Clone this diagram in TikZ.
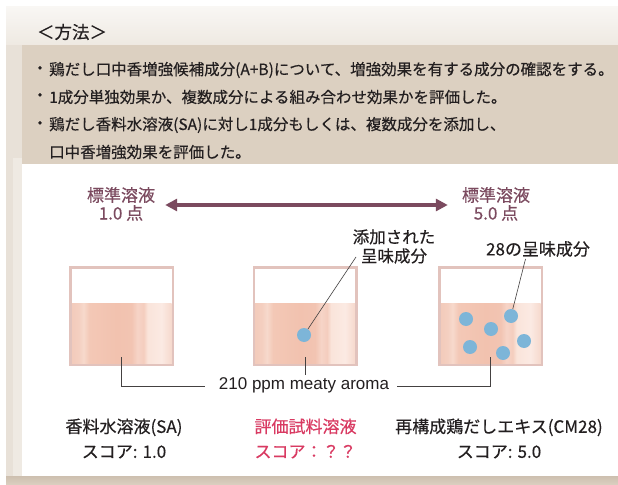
\documentclass[tikz,border=0pt]{standalone}
\usepackage{fontspec}
\setmainfont{Noto Sans CJK JP}[FakeBold=0.4]
\newfontfamily\latinsans{Liberation Sans}
\usetikzlibrary{arrows.meta}

\definecolor{inkdark}{HTML}{231F20}
\definecolor{maroon}{HTML}{7B4A5F}
\definecolor{evalred}{HTML}{D93A62}
\definecolor{boxbeige}{HTML}{DCD0C1}
\definecolor{stripbeige}{HTML}{E8E1D8}
\definecolor{striplight}{HTML}{EFEAE3}
\definecolor{shadowbeige}{HTML}{CDBFAF}
\definecolor{dotblue}{HTML}{7DB5D8}
\definecolor{glassedge}{HTML}{E2C3BD}
\definecolor{lqa}{HTML}{F3CBBB}
\definecolor{lqb}{HTML}{F4CFC0}
\definecolor{lqc}{HTML}{F7D9CC}
\definecolor{lqd}{HTML}{F3C8B6}
\definecolor{lqe}{HTML}{F2C2AF}
\definecolor{lqf}{HTML}{F2C4B2}
\definecolor{lqg}{HTML}{F6D4C7}
\definecolor{lqh}{HTML}{F4CDBE}
\definecolor{lqi}{HTML}{FAE4DA}
\definecolor{lqj}{HTML}{FBEAE3}
\definecolor{lqk}{HTML}{F6D9CD}

% pale salmon liquid with soft vertical light bands
\pgfdeclarehorizontalshading{liquid}{100bp}{%
  color(0bp)=(lqa); color(25bp)=(lqa); color(28.5bp)=(lqb); color(31bp)=(lqc);
  color(34bp)=(lqd); color(47.5bp)=(lqe); color(55bp)=(lqf); color(58bp)=(lqg);
  color(61bp)=(lqh); color(63bp)=(lqi); color(70bp)=(lqj); color(75bp)=(lqk);
  color(100bp)=(lqk)}

\begin{document}
\begin{tikzpicture}[x=1bp,y=-1bp,
  bodytext/.style={inner sep=0pt,text=inkdark,font=\fontsize{15.5bp}{18bp}\selectfont},
  titletext/.style={inner sep=0pt,text=inkdark,font=\fontsize{17.5bp}{20bp}\selectfont},
  stdlabel/.style={inner sep=0pt,text=maroon,align=center,font=\fontsize{17bp}{18bp}\selectfont},
  notelabel/.style={inner sep=0pt,text=inkdark,align=center,font=\fontsize{16.5bp}{19bp}\selectfont},
  samplelabel/.style={inner sep=0pt,text=inkdark,align=center,font=\fontsize{17bp}{25bp}\selectfont},
  beaker/.style={draw=glassedge,line width=2.5bp,minimum width=102.5bp,minimum height=97.5bp,inner sep=0pt},
  flavordot/.style={circle,fill=dotblue,minimum size=14bp,inner sep=0pt},
  leader/.style={draw=inkdark!85,line width=0.6bp},
  scalearrow/.style={draw=maroon,line width=3.6bp,{Triangle[length=12bp,width=12bp]}-{Triangle[length=12bp,width=12bp]}}
]
\useasboundingbox (0,0) rectangle (618,485);
\fill[white] (0,0) rectangle (618,485);

% framed panel background
\fill[stripbeige] (6,7) rectangle (618,485);
\shade[top color=white!60!striplight,bottom color=striplight!90!stripbeige] (6,7) rectangle (618,45);
\fill[striplight] (13,158) rectangle (22,476);
\fill[boxbeige] (22,45) rectangle (618,164);
\shade[top color=shadowbeige,bottom color=boxbeige] (6,476) rectangle (618,485);
\fill[white] (22,164) rectangle (618,476);

% heading and method notes
\node[titletext] (title) at (72,32) {＜方法＞};
\node[bodytext] (m1) at (40,70) {・};
\node[bodytext] (m2) at (40,97) {・};
\node[bodytext] (m3) at (40,125) {・};
\node[bodytext,anchor=west] (n1) at (49,70) {鶏だし口中香増強候補成分(A+B)について、増強効果を有する成分の確認をする。};
\node[bodytext,anchor=west] (n2) at (49,97) {1成分単独効果か、複数成分による組み合わせ効果かを評価した。};
\node[bodytext,anchor=west] (n3) at (49,125) {鶏だし香料水溶液(SA)に対し1成分もしくは、複数成分を添加し、};
\node[bodytext,anchor=west] (n4) at (49,152) {口中香増強効果を評価した。};

% reference scale
\node[stdlabel] (std1) at (121,204) {標準溶液\\1.0 点};
\node[stdlabel] (std5) at (496,204) {標準溶液\\5.0 点};
\draw[scalearrow] ([xshift=10bp,yshift=-1bp]std1.east) -- ([xshift=-14bp,yshift=-1bp]std5.west);

% beakers with liquid
\foreach \cx/\nm in {121.5/b1,305/b2,490.5/b3}{
  \shade[shading=liquid] (\cx-50,303) rectangle (\cx+50,364.8);
  \node[beaker] (\nm) at (\cx,316) {};
}

% taste components
\node[flavordot] (d2) at (304,335) {};
\node[flavordot] (e1) at (466,319) {};
\node[flavordot] (e2) at (491,329) {};
\node[flavordot] (e3) at (511,316) {};
\node[flavordot] (e4) at (524,341) {};
\node[flavordot] (e5) at (470,347) {};
\node[flavordot] (e6) at (503,353) {};

\node[notelabel] (added) at (394,246.5) {添加された\\呈味成分};
\node[notelabel,font=\fontsize{17bp}{19bp}\selectfont] (many) at (538,249) {28の呈味成分};
\coordinate (addedtip) at (356,257);
\coordinate (manytip) at (525.5,259);
\draw[leader] (d2) -- (addedtip);
\draw[leader] (e3) -- (manytip);

% common aroma base
\node[inner sep=0pt,text=inkdark,font=\latinsans\fontsize{17bp}{20bp}\selectfont] (aroma) at (304,385) {210 ppm meaty aroma};
\coordinate (a1) at (121.5,357);
\coordinate (a2) at (305,357);
\coordinate (a3) at (490.5,357);
\draw[leader] (a1) |- ([xshift=-14bp]aroma.west |- 0,386);
\draw[leader] (a3) |- ([xshift=8bp]aroma.east |- 0,386);
\draw[leader] (a2) -- (305,375);

% sample names and scores
\node[samplelabel] (s1) at (124,438.5) {香料水溶液(SA)\\スコア: 1.0};
\node[samplelabel,text=evalred] (s2) at (305.5,438.5) {評価試料溶液\\スコア：？？};
\node[samplelabel] (s3) at (499,438.5) {再構成鶏だしエキス(CM28)\\スコア: 5.0};
\end{tikzpicture}
\end{document}
